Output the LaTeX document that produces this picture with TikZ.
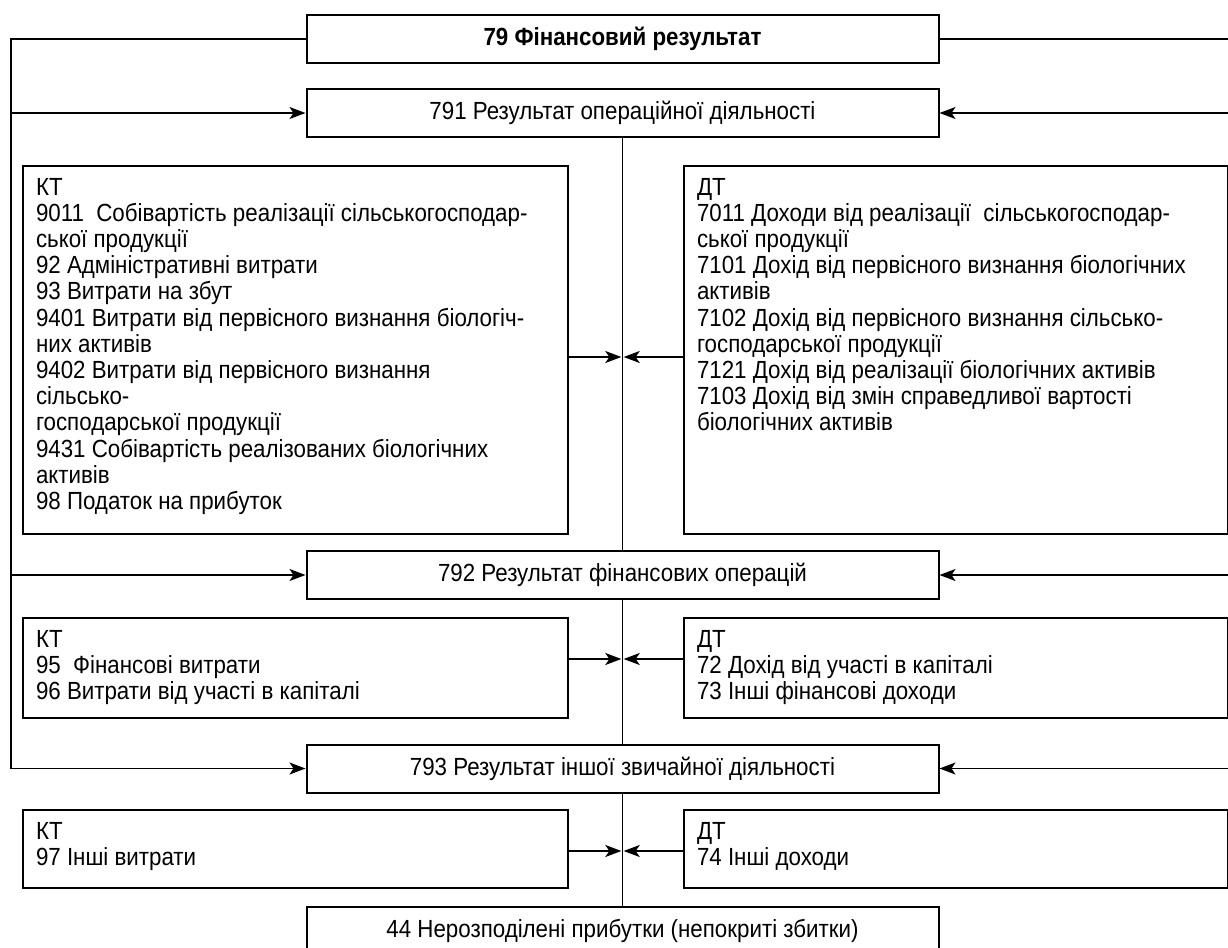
\documentclass[tikz,border=0pt]{standalone}
\usepackage{fontspec}
\setmainfont{Liberation Sans}[FakeStretch=0.9]
\usetikzlibrary{arrows.meta,positioning}
\newcommand{\accfont}{\fontsize{12.4}{13.1}\selectfont}
\newcommand{\acctext}[3]{\begin{minipage}[t][#1][t]{#2}\raggedright #3\end{minipage}}
\tikzset{
  res/.style={draw, line width=1pt, fill=white, minimum width=316pt, minimum height=24pt, inner sep=0pt, font=\accfont},
  acc/.style={draw, line width=1pt, anchor=north west, inner xsep=6.5pt, inner ysep=6pt, font=\accfont},
  arr/.style={-{Stealth[length=8pt, width=6pt, inset=2pt]}, line width=0.8pt},
  ln/.style={line width=0.8pt},
}
\begin{document}
\begin{tikzpicture}[x=0.5pt, y=-0.5pt]
\useasboundingbox (0,0) rectangle (1228,948);
% result accounts
\node[res, font=\accfont\bfseries] (r79) at (622.5,39) {79 Фінансовий результат};
\node[res] (r791) at (622.5,113) {791 Результат операційної діяльності};
\node[res] (r792) at (622.5,575) {792 Результат фінансових операцій};
\node[res] (r793) at (622.5,768.5) {793 Результат іншої звичайної діяльності};
\node[res] (r44) at (622.5,931) {44 Нерозподілені прибутки (непокриті збитки)};
% debit / credit sub-accounts
\node[acc] (kt1) at (22,165) {\acctext{172pt}{259.5pt}{КТ\\
9011\ \ Собівартість реалізації сільськогосподар-\\
ської продукції\\
92 Адміністративні витрати\\
93 Витрати на збут\\
9401 Витрати від первісного визнання біологіч-\\
них активів\\
9402 Витрати від первісного визнання\\
сільсько-\\
господарської продукції\\
9431 Собівартість реалізованих біологічних\\
активів\\
98 Податок на прибуток}};
\node[acc] (dt1) at (683,165) {\acctext{172pt}{259pt}{ДТ\\
7011 Доходи від реалізації\ \ сільськогосподар-\\
ської продукції\\
7101 Дохід від первісного визнання біологічних\\
активів\\
7102 Дохід від первісного визнання сільсько-\\
господарської продукції\\
7121 Дохід від реалізації біологічних активів\\
7103 Дохід від змін справедливої вартості\\
біологічних активів}};
\node[acc] (kt2) at (22,617) {\acctext{38pt}{259.5pt}{КТ\\
95\ \ Фінансові витрати\\
96 Витрати від участі в капіталі}};
\node[acc] (dt2) at (683,617) {\acctext{38pt}{259pt}{ДТ\\
72 Дохід від участі в капіталі\\
73 Інші фінансові доходи}};
\node[acc] (kt3) at (22,809) {\acctext{27pt}{259.5pt}{КТ\\
97 Інші витрати}};
\node[acc] (dt3) at (683,809) {\acctext{27pt}{259pt}{ДТ\\
74 Інші доходи}};
% spine
\draw[ln] (r791) -- (r792);
\draw[ln] (r792) -- (r793);
\draw[ln] (r793) -- (r44);
\foreach \k/\d/\y in {kt1/dt1/357, kt2/dt2/659, kt3/dt3/851} {
  \coordinate (s) at (622.5,\y);
  \draw[arr, shorten >=0.6pt] (\k.east |- s) -- (s);
  \draw[arr, shorten >=0.6pt] (\d.west |- s) -- (s);
}
% outer loops
\coordinate (lx) at (11,0);
\coordinate (rx) at (1228,0);
\draw[ln] (r79.west) -| (lx |- r793.west);
\draw[ln] (r79.east) -- (rx |- r79.east);
\foreach \n in {r791,r792,r793} {
  \draw[arr] (lx |- \n.west) -- (\n.west);
  \draw[arr] (rx |- \n.east) -- (\n.east);
}
\end{tikzpicture}
\end{document}
